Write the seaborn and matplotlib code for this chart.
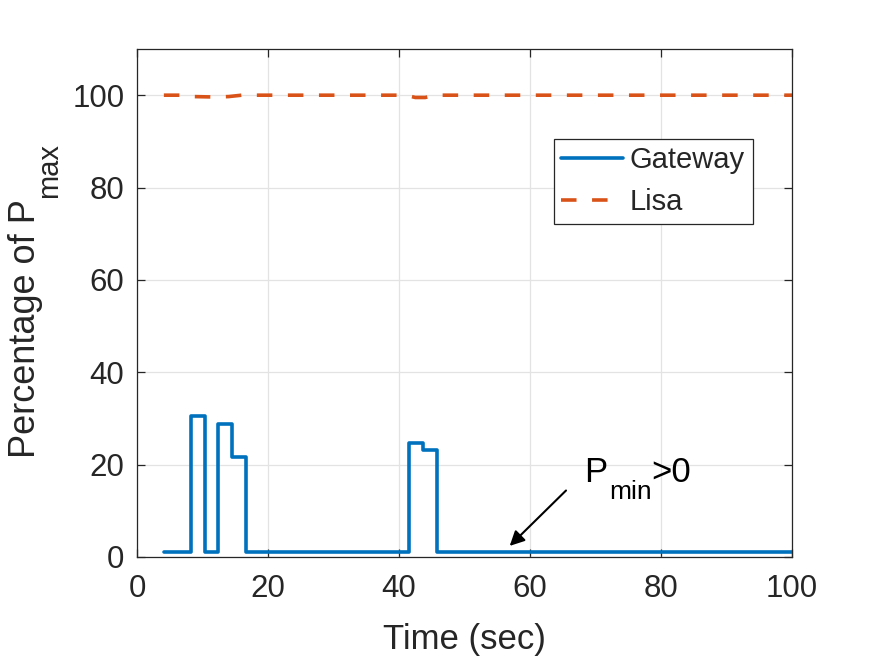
import matplotlib
matplotlib.use("Agg")
import matplotlib.pyplot as plt
import seaborn as sns
import pandas as pd

# Data
gateway_time = [4.1, 8.2, 10.4, 12.3, 14.5, 16.6, 41.5, 43.7, 45.8, 100.0]
gateway_pct = [1.0, 30.5, 1.0, 28.7, 21.7, 1.0, 24.7, 23.2, 1.0, 1.0]

lisa_time = [4.1, 7.0, 8.5, 12.0, 14.0, 16.0, 41.0, 42.5, 44.0, 45.5, 100.0]
lisa_pct = [100.0, 100.0, 99.7, 99.6, 99.7, 100.0, 100.0, 99.5, 99.5, 100.0, 100.0]

x_ticks = [0, 20, 40, 60, 80, 100]
y_ticks = [0, 20, 40, 60, 80, 100]

sns.set_theme(style="white")
plt.rcParams["font.family"] = ["Liberation Sans", "DejaVu Sans"]

TXT = "#262626"

fig = plt.figure(figsize=(8.75, 6.57), dpi=100)
ax = fig.add_axes([137 / 875, 1 - 557 / 657, 655 / 875, 508 / 657])

gw = pd.DataFrame({"t": gateway_time, "p": gateway_pct})
li = pd.DataFrame({"t": lisa_time, "p": lisa_pct})

sns.lineplot(data=gw, x="t", y="p", ax=ax, color="#0072BD", lw=2.6,
             drawstyle="steps-post", label="Gateway", sort=False, estimator=None)
sns.lineplot(data=li, x="t", y="p", ax=ax, color="#D95319", lw=2.6,
             label="Lisa", sort=False, estimator=None)
ax.lines[1].set_dashes((4.3, 4.3))

ax.set_xlim(0, 100)
ax.set_ylim(0, 110)
ax.set_xticks(x_ticks)
ax.set_yticks(y_ticks)
ax.grid(True, color="#e3e3e3", lw=0.9)
ax.set_axisbelow(True)

for s in ax.spines.values():
    s.set_color(TXT)
    s.set_linewidth(0.9)

ax.tick_params(direction="in", length=6, width=0.9, color=TXT,
               labelsize=22.5, labelcolor=TXT, top=True, right=True,
               bottom=True, left=True)
ax.tick_params(axis="x", pad=12)
ax.tick_params(axis="y", pad=9)

ax.set_xlabel("Time (sec)", fontsize=25, color=TXT, labelpad=14)
ax.set_ylabel("")

# y label with MATLAB-style subscript
ylab = fig.text(35 / 875, 1 - 458 / 657, "Percentage of P", rotation=90,
                rotation_mode="anchor", ha="left", va="baseline",
                fontsize=26, color=TXT)
ax.annotate("max", xy=(1, 1), xycoords=ylab, xytext=(10, 1),
            textcoords="offset points", rotation=90, rotation_mode="anchor",
            ha="left", va="baseline", fontsize=21, color=TXT,
            annotation_clip=False)

leg = ax.legend(loc="upper right", bbox_to_anchor=(0.940, 0.823),
                fontsize=21, frameon=True, fancybox=False, framealpha=1,
                edgecolor=TXT, handlelength=2.1, handletextpad=0.25,
                borderpad=0.26, labelspacing=0.47, borderaxespad=0)
leg.get_frame().set_linewidth(0.9)

ax.annotate("", xy=(56.9, 2.4), xytext=(65.5, 14.4),
            arrowprops=dict(arrowstyle="-|>", color="black", lw=1.5,
                            mutation_scale=22, shrinkA=0, shrinkB=0))
t1 = ax.text(68.3, 16.2, "P", fontsize=25, color="black",
             va="baseline", ha="left")
t2 = ax.annotate("min", xy=(1, 0), xycoords=t1, xytext=(1.0, -11.0),
                 textcoords="offset points", fontsize=19, color="black",
                 va="bottom", ha="left")
ax.annotate(">0", xy=(1, 0), xycoords=t2, xytext=(0.0, 11.0),
            textcoords="offset points", fontsize=25, color="black",
            va="bottom", ha="left")

fig.savefig("out.png", dpi=100)
